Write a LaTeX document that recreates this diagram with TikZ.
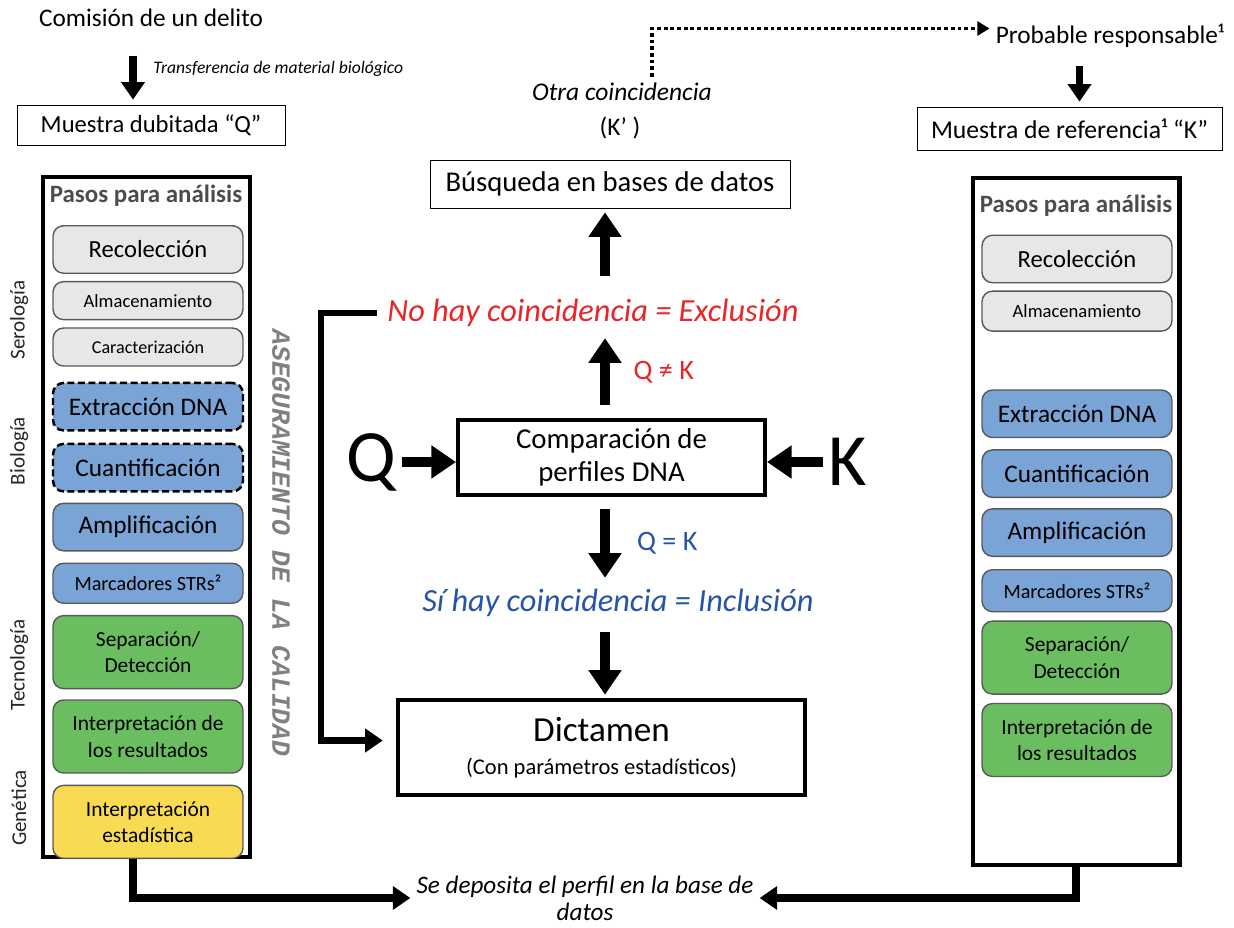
\documentclass[tikz,border=0pt]{standalone}
\usepackage{fontspec}
\setmainfont{Carlito}
\newfontfamily\monofuente{Liberation Mono}
\usetikzlibrary{arrows.meta,positioning}
\definecolor{grisclaro}{RGB}{231,231,231}
\definecolor{azulpaso}{RGB}{122,163,214}
\definecolor{verdepaso}{RGB}{106,190,96}
\definecolor{amarillopaso}{RGB}{248,219,82}
\definecolor{rojotxt}{RGB}{232,37,40}
\definecolor{azultxt}{RGB}{38,84,166}

\begin{document}
\begin{tikzpicture}[x=0.02cm, y=-0.02cm,
		texto/.style = {font=\fontsize{14.4}{16}\selectfont},
		caja/.style  = {draw, rectangle, thin, align=center, font=\fontsize{14}{16}\selectfont},
		marco/.style = {draw, rectangle, line width=2.3pt, minimum width=4.14cm, minimum height=13.6cm},
		titulo/.style = {font=\fontsize{14.2}{16}\selectfont\bfseries, text=black!70},
		paso/.style  = {draw=black!65, rounded corners=6pt, line width=0.8pt, minimum width=3.8cm, align=center, inner sep=1pt},
		gris/.style  = {paso, fill=grisclaro, minimum height=0.76cm, font=\fontsize{10.6}{12}\selectfont},
		grisg/.style = {gris, minimum height=0.95cm, font=\fontsize{14}{16}\selectfont},
		azul/.style  = {paso, fill=azulpaso, minimum height=0.95cm, font=\fontsize{14.4}{16}\selectfont},
		azulp/.style = {paso, fill=azulpaso, minimum height=0.8cm, font=\fontsize{11.5}{13}\selectfont},
		verde/.style = {paso, fill=verdepaso, minimum height=1.46cm, font=\fontsize{12.2}{15}\selectfont},
		amarillo/.style = {verde, fill=amarillopaso},
		punteada/.style = {draw=black, line width=1.4pt, dash pattern=on 4pt off 2pt},
		lateral/.style = {rotate=90, font=\fontsize{12}{13}\selectfont, text=black!85},
		calidad/.style = {rotate=-90, font=\fontsize{15}{16}\monofuente\bfseries\itshape, text=black!50},
		>={Triangle[length=10pt,width=13pt]},
		flecha/.style = {->, line width=4pt},
		flecha gruesa/.style = {-{Triangle[length=14pt,width=18pt]}, line width=6pt},
		resultado/.style = {font=\fontsize{18.4}{20}\selectfont\itshape, inner sep=0pt},
		signo/.style = {font=\fontsize{16}{18}\selectfont}]
	
	\useasboundingbox (0,0) rectangle (1234,928);
	
	% muestra dubitada
	\node[texto] (comision) at (151,18) {Comisión de un delito};
	\node[caja, minimum width=5.36cm, minimum height=0.8cm] (muestraQ) at (151,125) {Muestra dubitada “Q”};
	\draw[flecha, line width=4.5pt, shorten <=0.45cm, shorten >=0.1cm] ([xshift=-0.36cm]comision.south) -- ([xshift=-0.36cm]comision.south |- muestraQ.north)
	node[midway, right=6pt, font=\fontsize{10}{12}\selectfont\itshape] (transfer) {Transferencia de material biológico};
	
	\node[marco] (marcoQ) at (146.5,517) {};
	\node[titulo] (pasosQ) at (146,196) {Pasos para análisis};
	\node[grisg] (recQ) at (148,249.5) {Recolección};
	\node[gris, below=1.4mm of recQ] (almQ) {Almacenamiento};
	\node[gris, below=1.4mm of almQ, font=\fontsize{10.3}{12}\selectfont] (carQ) {Caracterización};
	\node[azul, punteada, below=3mm of carQ] (extQ) {Extracción DNA};
	\node[azul, punteada, below=2.2mm of extQ] (cuaQ) {Cuantificación};
	\node[azul, below=2mm of cuaQ] (ampQ) {Amplificación};
	\node[azulp, below=2.2mm of ampQ] (marQ) {Marcadores STRs²};
	\node[verde, below=2.2mm of marQ] (sepQ) {Separación/\\Detección};
	\node[verde, below=2mm of sepQ] (intQ) {Interpretación de\\los resultados};
	\node[amarillo, below=2.2mm of intQ] (estQ) {Interpretación\\estadística};
	
	\node[lateral] (serologia) at (19,320) {Serología};
	\node[lateral] (biologia) at (19,451) {Biología};
	\node[lateral] (tecnologia) at (19,665) {Tecnología};
	\node[lateral] (genetica) at (19,808) {Genética};
	\node[calidad] (calidad) at (281,543) {ASEGURAMIENTO DE LA CALIDAD};
	
	% muestra de referencia
	\node[texto] (probable) at (1110,36) {Probable responsable¹};
	\node[caja, minimum width=6.1cm, minimum height=0.86cm, font=\fontsize{14.6}{16}\selectfont] (muestraK) at (1069.5,128.5) {Muestra de referencia¹ “K”};
	\draw[flecha, line width=4.5pt, shorten <=0.25cm, shorten >=0.1cm] ([xshift=0.2cm]probable.south -| muestraK.north) -- ([xshift=0.2cm]muestraK.north);
	
	\node[marco, minimum height=13.74cm] (marcoK) at (1076,521.5) {};
	\node[titulo] (pasosK) at (1076,206) {Pasos para análisis};
	\node[grisg] (recK) at (1077,259) {Recolección};
	\node[gris, minimum height=0.8cm, below=1.4mm of recK] (almK) {Almacenamiento};
	\node[azul, below=1.15cm of almK] (extK) {Extracción DNA};
	\node[azul, below=2.2mm of extK] (cuaK) {Cuantificación};
	\node[azul, below=2mm of cuaK] (ampK) {Amplificación};
	\node[azulp, minimum height=0.84cm, below=2.4mm of ampK] (marK) {Marcadores STRs²};
	\node[verde, below=1.6mm of marK] (sepK) {Separación/\\Detección};
	\node[verde, below=1.6mm of sepK] (intK) {Interpretación de\\los resultados};
	
	% comparacion
	\node[texto, font=\fontsize{14.5}{16}\selectfont\itshape] (otra) at (622,92) {Otra coincidencia};
	\node[texto] (kprima) at (620,128) {(K’~)};
	\draw[line width=2.2pt, dash pattern=on 2.2pt off 1.6pt, -{Triangle[length=7pt,width=8pt]}] ([xshift=0.6cm]otra.north) |- ([yshift=0.15cm]probable.west);
	
	\node[caja, font=\fontsize{16.3}{18}\selectfont, minimum width=7.2cm, minimum height=0.96cm] (busqueda) at (610,184) {Búsqueda en bases de datos};
	\node[resultado, text=rojotxt] (nohay) at (593,313) {No hay coincidencia = Exclusión};
	\node[caja, line width=2.3pt, minimum width=6.14cm, minimum height=1.5cm, font=\fontsize{16.4}{19}\selectfont] (comp) at (611.5,457.5) {Comparación de\\perfiles DNA};
	\node[font=\fontsize{42}{44}\selectfont] (letraQ) at (371,462) {Q};
	\node[font=\fontsize{42}{44}\selectfont] (letraK) at (848,462) {K};
	\node[resultado, text=azultxt] (sihay) at (618,603) {Sí hay coincidencia = Inclusión};
	\node[caja, line width=2.6pt, minimum width=8.14cm, minimum height=1.9cm] (dictamen) at (601.5,747.5) {{\fontsize{20}{24}\selectfont Dictamen}\\[3pt]{\fontsize{12.8}{15}\selectfont(Con parámetros estadísticos)}};
	\node[font=\fontsize{14.3}{15.5}\selectfont\itshape, align=center] (deposito) at (585,898) {Se deposita el perfil en la base de\\datos};
	
	\draw[flecha gruesa] (letraQ.east) -- (letraQ.east -| comp.west);
	\draw[flecha gruesa] (letraK.west) -- (letraK.west -| comp.east);
	\draw[flecha gruesa, shorten <=0.26cm, shorten >=0.22cm] (comp.north -| 605,0) -- (nohay.south -| 605,0)
	node[midway, right=10pt, signo, text=rojotxt] (distinto) {Q ≠ K};
	\draw[flecha gruesa, shorten <=0.46cm, shorten >=0.08cm] (nohay.north -| 605,0) -- (busqueda.south -| 605,0);
	\draw[flecha gruesa, shorten <=0.24cm, shorten >=0.22cm] (comp.south -| 605,0) -- (sihay.north -| 605,0)
	node[midway, right=12pt, signo, text=azultxt] (igual) {Q = K};
	\draw[flecha gruesa, shorten <=0.3cm, shorten >=0.06cm] (sihay.south -| 605,0) -- (dictamen.north -| 605,0);
	
	\draw[flecha, line width=3.6pt, shorten >=0.26cm] ([xshift=-0.2cm]nohay.west) -- ++(-56,0) |- ([yshift=0.14cm]dictamen.west);
	\draw[flecha] ([xshift=-0.27cm]marcoQ.south) |- (deposito.west);
	\draw[flecha] (marcoK.south) |- (deposito.east);
\end{tikzpicture}
\end{document}
